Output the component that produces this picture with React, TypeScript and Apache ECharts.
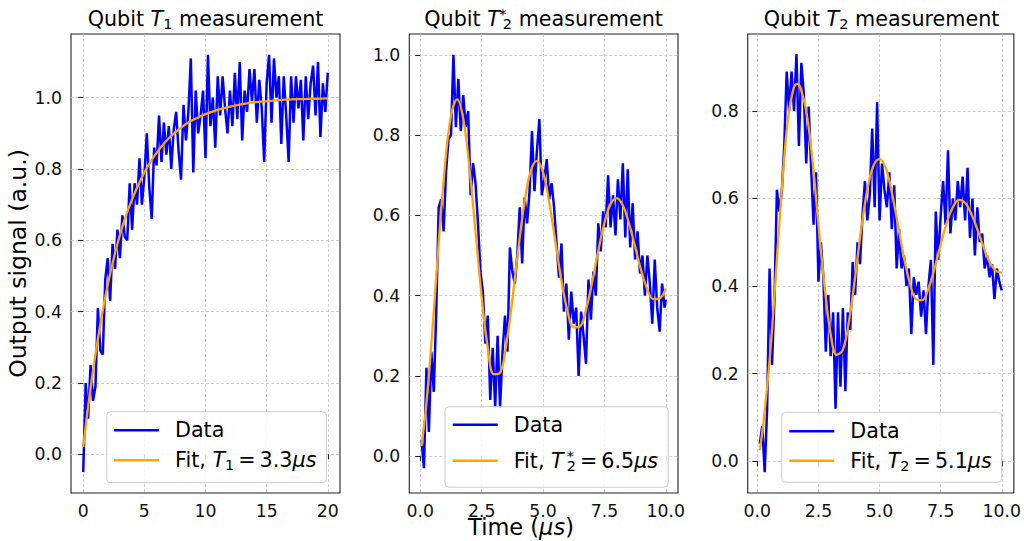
import React, { useEffect, useRef } from "react";
import * as echarts from "echarts";

// ---------- Panel 1 : T1 ----------
const T1_TIME = [
  0, 0.2, 0.4, 0.6, 0.8, 1, 1.2, 1.4, 1.6, 1.8,
  2, 2.2, 2.4, 2.6, 2.8, 3, 3.2, 3.4, 3.6, 3.8,
  4, 4.2, 4.4, 4.6, 4.8, 5, 5.2, 5.4, 5.6, 5.8,
  6, 6.2, 6.4, 6.6, 6.8, 7, 7.2, 7.4, 7.6, 7.8,
  8, 8.2, 8.4, 8.6, 8.8, 9, 9.2, 9.4, 9.6, 9.8,
  10, 10.2, 10.4, 10.6, 10.8, 11, 11.2, 11.4, 11.6, 11.8,
  12, 12.2, 12.4, 12.6, 12.8, 13, 13.2, 13.4, 13.6, 13.8,
  14, 14.2, 14.4, 14.6, 14.8, 15, 15.2, 15.4, 15.6, 15.8,
  16, 16.2, 16.4, 16.6, 16.8, 17, 17.2, 17.4, 17.6, 17.8,
  18, 18.2, 18.4, 18.6, 18.8, 19, 19.2, 19.4, 19.6, 19.8,
  20,
];
const T1_SIGNAL = [
  -0.05, 0.2, 0.1, 0.25, 0.15, 0.19, 0.41, 0.29, 0.28, 0.49,
  0.55, 0.43, 0.59, 0.52, 0.63, 0.55, 0.67, 0.61, 0.6, 0.76,
  0.63, 0.76, 0.7, 0.83, 0.7, 0.78, 0.9, 0.75, 0.66, 0.86,
  0.81, 0.95, 0.82, 0.93, 0.84, 0.92, 0.8, 0.91, 0.96, 0.85,
  0.77, 0.98, 0.88, 0.96, 1.11, 0.79, 1.02, 0.9, 0.95, 1.02,
  0.83, 1.12, 0.92, 1.0, 0.86, 1.06, 0.95, 1.06, 0.97, 0.9,
  1.02, 0.92, 1.07, 0.94, 1.1, 0.88, 1.02, 0.96, 1.08, 0.99,
  1.08, 0.93, 1.05, 0.97, 0.82, 1.04, 1.12, 0.93, 1.11, 1.0,
  1.06, 0.87, 1.06, 0.95, 0.82, 1.06, 0.93, 1.06, 0.97, 1.05,
  0.88, 1.06, 0.94, 1.04, 1.09, 0.95, 1.1, 0.89, 1.04, 0.96,
  1.07,
];
const T1_FIT_TIME = [
  0, 0.5, 1, 1.5, 2, 2.5, 3, 3.5, 4, 4.5, 5, 5.5, 6, 6.5, 7, 7.5, 8, 8.5, 9, 9.5,
  10, 11, 12, 13, 14, 15, 16, 17, 18, 19, 20,
];
const T1_FIT = [
  0.02, 0.16, 0.28, 0.385, 0.475, 0.55, 0.615, 0.67, 0.715, 0.755, 0.79, 0.82, 0.845,
  0.867, 0.886, 0.902, 0.916, 0.928, 0.938, 0.946, 0.954, 0.966, 0.975, 0.982, 0.987,
  0.99, 0.993, 0.995, 0.996, 0.997, 0.998,
];

// ---------- Panel 2 : T2* (Ramsey) ----------
const T2S_TIME = [
  0.05, 0.15, 0.25, 0.35, 0.45, 0.55, 0.65, 0.75, 0.85, 0.95,
  1.05, 1.15, 1.25, 1.35, 1.45, 1.55, 1.65, 1.75, 1.85, 1.95,
  2.05, 2.15, 2.25, 2.35, 2.45, 2.55, 2.65, 2.75, 2.85, 2.95,
  3.05, 3.15, 3.25, 3.35, 3.45, 3.55, 3.65, 3.75, 3.85, 3.95,
  4.05, 4.15, 4.25, 4.35, 4.45, 4.55, 4.65, 4.75, 4.85, 4.95,
  5.05, 5.15, 5.25, 5.35, 5.45, 5.55, 5.65, 5.75, 5.85, 5.95,
  6.05, 6.15, 6.25, 6.35, 6.45, 6.55, 6.65, 6.75, 6.85, 6.95,
  7.05, 7.15, 7.25, 7.35, 7.45, 7.55, 7.65, 7.75, 7.85, 7.95,
  8.05, 8.15, 8.25, 8.35, 8.45, 8.55, 8.65, 8.75, 8.85, 8.95,
  9.05, 9.15, 9.25, 9.35, 9.45, 9.55, 9.65, 9.75, 9.85, 9.95,
  10.0,
];
const T2S_SIGNAL = [
  0.04, -0.03, 0.22, 0.06, 0.26, 0.16, 0.36, 0.62, 0.64, 0.56,
  0.71, 0.79, 0.8, 1.0, 0.82, 0.94, 0.81, 0.9, 0.82, 0.86,
  0.65, 0.73, 0.68, 0.58, 0.46, 0.41, 0.28, 0.35, 0.14, 0.27,
  0.12, 0.3, 0.12, 0.26, 0.35, 0.26, 0.52, 0.46, 0.43, 0.5,
  0.62, 0.48, 0.645, 0.58, 0.66, 0.81, 0.66, 0.76, 0.84, 0.65,
  0.69, 0.74, 0.64, 0.68, 0.62, 0.53, 0.445, 0.53, 0.36, 0.43,
  0.29, 0.41, 0.33, 0.37, 0.2, 0.36, 0.3, 0.23, 0.44, 0.34,
  0.46, 0.4, 0.58, 0.51, 0.61, 0.57, 0.7, 0.57, 0.65, 0.55,
  0.69, 0.59, 0.73, 0.545, 0.715, 0.52, 0.63, 0.49, 0.56, 0.455,
  0.5, 0.4, 0.5, 0.43, 0.33, 0.49, 0.37, 0.31, 0.43, 0.37,
  0.39,
];
const T2S_FIT_TIME = [
  0.05, 0.25, 0.5, 0.75, 1.0, 1.25, 1.5, 1.75, 2.0, 2.25, 2.5, 2.75, 3.0, 3.25, 3.5,
  3.75, 4.0, 4.25, 4.5, 4.75, 5.0, 5.25, 5.5, 5.75, 6.0, 6.25, 6.5, 6.75, 7.0, 7.25,
  7.5, 7.75, 8.0, 8.25, 8.5, 8.75, 9.0, 9.25, 9.5, 9.75, 10.0,
];
const T2S_FIT = [
  0.025, 0.132, 0.319, 0.532, 0.721, 0.848, 0.889, 0.841, 0.719, 0.559, 0.397, 0.27,
  0.204, 0.208, 0.277, 0.39, 0.519, 0.634, 0.711, 0.736, 0.707, 0.633, 0.536, 0.437,
  0.361, 0.321, 0.323, 0.365, 0.433, 0.512, 0.581, 0.628, 0.643, 0.625, 0.58, 0.522,
  0.462, 0.415, 0.391, 0.393, 0.418,
];

// ---------- Panel 3 : T2 (echo) ----------
const T2_TIME = [
  0.1, 0.2, 0.3, 0.4, 0.5, 0.6, 0.7, 0.8, 0.9, 1.0,
  1.1, 1.2, 1.3, 1.4, 1.5, 1.6, 1.7, 1.8, 1.9, 2.0,
  2.1, 2.2, 2.3, 2.4, 2.5, 2.6, 2.7, 2.8, 2.9, 3.0,
  3.1, 3.2, 3.3, 3.4, 3.5, 3.6, 3.7, 3.8, 3.9, 4.0,
  4.1, 4.2, 4.3, 4.4, 4.5, 4.6, 4.7, 4.8, 4.9, 5.0,
  5.1, 5.2, 5.3, 5.4, 5.5, 5.6, 5.7, 5.8, 5.9, 6.0,
  6.1, 6.2, 6.3, 6.4, 6.5, 6.6, 6.7, 6.8, 6.9, 7.0,
  7.1, 7.2, 7.3, 7.4, 7.5, 7.6, 7.7, 7.8, 7.9, 8.0,
  8.1, 8.2, 8.3, 8.4, 8.5, 8.6, 8.7, 8.8, 8.9, 9.0,
  9.1, 9.2, 9.3, 9.4, 9.5, 9.6, 9.7, 9.8, 9.9, 10.0,
];
const T2_SIGNAL = [
  0.04, 0.08, -0.025, 0.12, 0.44, 0.22, 0.37, 0.62, 0.57, 0.615,
  0.72, 0.89, 0.8, 0.89, 0.8, 0.93, 0.72, 0.91, 0.84, 0.68,
  0.81, 0.67, 0.54, 0.66, 0.41, 0.5, 0.42, 0.25, 0.38, 0.24,
  0.34, 0.12, 0.34, 0.17, 0.35, 0.16, 0.34, 0.3, 0.455, 0.38,
  0.5, 0.45, 0.56, 0.64, 0.55, 0.61, 0.76, 0.58, 0.82, 0.55,
  0.68, 0.62, 0.58, 0.66, 0.53, 0.63, 0.44, 0.53, 0.44, 0.47,
  0.4, 0.44, 0.29, 0.42, 0.38, 0.41, 0.33, 0.39, 0.29, 0.4,
  0.46, 0.22, 0.57, 0.46, 0.56, 0.64, 0.54, 0.71, 0.52, 0.6,
  0.55, 0.64, 0.58, 0.65, 0.55, 0.67, 0.51, 0.6, 0.47, 0.58,
  0.5, 0.52, 0.44, 0.47, 0.42, 0.45, 0.37, 0.44, 0.41, 0.39,
];
const T2_FIT_TIME = [
  0.1, 0.25, 0.5, 0.75, 1.0, 1.25, 1.5, 1.65, 1.75, 2.0, 2.25, 2.5, 2.75, 3.0, 3.25,
  3.5, 3.75, 4.0, 4.25, 4.5, 4.75, 5.0, 5.25, 5.5, 5.75, 6.0, 6.25, 6.5, 6.75, 7.0,
  7.25, 7.5, 7.75, 8.0, 8.25, 8.5, 8.75, 9.0, 9.25, 9.5, 9.75, 10.0,
];
const T2_FIT = [
  0.025, 0.09, 0.23, 0.42, 0.62, 0.78, 0.855, 0.862, 0.855, 0.8, 0.69, 0.54, 0.4,
  0.29, 0.243, 0.255, 0.32, 0.42, 0.53, 0.62, 0.675, 0.69, 0.67, 0.615, 0.54, 0.465,
  0.405, 0.37, 0.368, 0.395, 0.44, 0.495, 0.545, 0.58, 0.597, 0.59, 0.565, 0.53,
  0.49, 0.455, 0.435, 0.43,
];

// ---------- Ticks ----------
const X_TICKS_T1 = [0, 5, 10, 15, 20];
const X_TICKS_T2 = [0, 2.5, 5, 7.5, 10];
const Y_TICKS_A = [0, 0.2, 0.4, 0.6, 0.8, 1.0];
const Y_TICKS_B = [0, 0.2, 0.4, 0.6, 0.8];

const FONT = "DejaVu Sans";
const BIG = 20.7;
const LABEL = 23.5;
const XLABEL = 22.5;
const SMALL = 14.5;
const TICK = 17.3;

const RICH: any = {
  g: { width: 11 },
  sp: { width: 4 },
  n: { fontFamily: FONT, fontSize: BIG, color: "#000", lineHeight: 26 },
  i: { fontFamily: FONT, fontSize: BIG, color: "#000", lineHeight: 26, fontStyle: "italic" },
  sub: { fontFamily: FONT, fontSize: SMALL, color: "#000", lineHeight: 16, padding: [10, 0, 0, 0] },
  sup: {
    fontFamily: FONT, fontSize: SMALL, color: "#000", lineHeight: 16,
    padding: [0, 0, 10, 3], width: 0, align: "left",
  },
  ln: { fontFamily: FONT, fontSize: XLABEL, color: "#000", lineHeight: 22 },
  li: { fontFamily: FONT, fontSize: XLABEL, color: "#000", lineHeight: 22, fontStyle: "italic" },
};

const zip = (xs: number[], ys: number[]) => xs.map((x, i) => [x, ys[i]]);

const GRIDS = [
  { left: 71, top: 34, width: 269, height: 459 },
  { left: 409.3, top: 34, width: 268.7, height: 459 },
  { left: 747.7, top: 34, width: 267.6, height: 459 },
];
const X_RANGES = [
  [-1, 21],
  [-0.4475, 10.4975],
  [-0.395, 10.495],
];
const Y_RANGES = [
  [-0.1085, 1.1785],
  [-0.092, 1.052],
  [-0.0727, 0.9757],
];

function makeX(i: number) {
  const ticks = i === 0 ? X_TICKS_T1 : X_TICKS_T2;
  return {
    type: "value",
    gridIndex: i,
    min: X_RANGES[i][0],
    max: X_RANGES[i][1],
    axisLine: { show: false },
    axisTick: { show: true, customValues: ticks, length: 5, lineStyle: { color: "#222", width: 1.1 } },
    axisLabel: {
      customValues: ticks,
      margin: 9,
      lineHeight: 18,
      fontFamily: FONT,
      fontSize: TICK,
      color: "#111",
      formatter: (v: number) => (i === 0 ? String(v) : v.toFixed(1)),
    },
    splitLine: { show: true, lineStyle: { color: "#c4c4c4", width: 0.8, type: [3, 2] } },
  };
}

function makeY(i: number) {
  const ticks = i === 2 ? Y_TICKS_B : Y_TICKS_A;
  const base: any = {
    type: "value",
    gridIndex: i,
    min: Y_RANGES[i][0],
    max: Y_RANGES[i][1],
    axisLine: { show: false },
    axisTick: { show: true, customValues: ticks, length: 5, lineStyle: { color: "#222", width: 1.1 } },
    axisLabel: {
      customValues: ticks,
      margin: 9,
      fontFamily: FONT,
      fontSize: TICK,
      color: "#111",
      formatter: (v: number) => v.toFixed(1),
    },
    splitLine: { show: true, lineStyle: { color: "#c4c4c4", width: 0.8, type: [3, 2] } },
  };
  if (i === 0) {
    base.name = "Output signal (a.u.)";
    base.nameLocation = "middle";
    base.nameRotate = 90;
    base.nameGap = 41;
    base.nameTextStyle = { fontFamily: FONT, fontSize: LABEL, color: "#000" };
  }
  return base;
}

function dataSeries(i: number, xs: number[], ys: number[]) {
  return {
    type: "line",
    name: "Data",
    xAxisIndex: i,
    yAxisIndex: i,
    data: zip(xs, ys),
    showSymbol: false,
    color: "#0000ff",
    lineStyle: { color: "#0000ff", width: 2.5 },
    z: 2,
  };
}
function fitSeries(i: number, name: string, xs: number[], ys: number[]) {
  return {
    type: "line",
    name,
    xAxisIndex: i,
    yAxisIndex: i,
    data: zip(xs, ys),
    showSymbol: false,
    smooth: 0.4,
    color: "#ffa500",
    lineStyle: { color: "#ffa500", width: 2.3 },
    z: 3,
  };
}

const FIT_LABELS: Record<string, string> = {
  fit1: "{g|}{n|Fit, }{i|T}{sub|1}{sp|}{n|=}{sp|}{n|3.3}{i|μs}",
  fit2: "{g|}{n|Fit, }{i|T}{sup|*}{sub|2}{sp|}{n|=}{sp|}{n|6.5}{i|μs}",
  fit3: "{g|}{n|Fit, }{i|T}{sub|2}{sp|}{n|=}{sp|}{n|5.1}{i|μs}",
};

function makeLegend(fit: string, left: number, top: number, gap: number, padding: number[]) {
  return {
    data: ["Data", fit],
    orient: "vertical",
    left,
    top,
    itemGap: gap,
    padding,
    icon: "rect",
    itemWidth: 45,
    itemHeight: 2.6,
    selectedMode: false,
    backgroundColor: "rgba(255,255,255,0.85)",
    borderColor: "#cccccc",
    borderWidth: 1,
    borderRadius: 4,
    textStyle: { fontFamily: FONT, fontSize: BIG, color: "#000", rich: RICH },
    formatter: (name: string) => (name === "Data" ? "{g|}{n|Data}" : FIT_LABELS[name]),
  };
}

function makeTitle(text: string, cx: number, top: number) {
  return {
    text,
    left: cx,
    top,
    textAlign: "center",
    padding: 0,
    textStyle: { fontFamily: FONT, fontSize: BIG, color: "#000", fontWeight: "normal", rich: RICH },
  };
}

export default function App() {
  const ref = useRef<HTMLDivElement>(null);
  useEffect(() => {
    if (!ref.current) return;
    const chart = echarts.init(ref.current, null, { renderer: "svg" });
    const option: any = {
      animation: false,
      backgroundColor: "#ffffff",
      title: [
        makeTitle("{n|Qubit }{i|T}{sub|1}{n| measurement}", 205.5, 6),
        makeTitle("{n|Qubit }{i|T}{sup|*}{sub|2}{n| measurement}", 543.6, 6),
        makeTitle("{n|Qubit }{i|T}{sub|2}{n| measurement}", 881.5, 6),
        makeTitle("{ln|Time (}{li|μs}{ln|)}", 521, 515.5),
      ],
      grid: GRIDS.map((g) => ({
        ...g,
        show: true,
        borderColor: "#222",
        borderWidth: 1.1,
        backgroundColor: "transparent",
      })),
      xAxis: [0, 1, 2].map(makeX),
      yAxis: [0, 1, 2].map(makeY),
      legend: [
        makeLegend("fit1", 106.7, 411.7, 7, [8, 10, 10, 7.3]),
        makeLegend("fit2", 445, 406.7, 13, [7.5, 10, 14, 7.7]),
        makeLegend("fit3", 781.7, 412.3, 6.5, [8.5, 10, 9, 7.6]),
      ],
      series: [
        dataSeries(0, T1_TIME, T1_SIGNAL),
        fitSeries(0, "fit1", T1_FIT_TIME, T1_FIT),
        dataSeries(1, T2S_TIME, T2S_SIGNAL),
        fitSeries(1, "fit2", T2S_FIT_TIME, T2S_FIT),
        dataSeries(2, T2_TIME, T2_SIGNAL),
        fitSeries(2, "fit3", T2_FIT_TIME, T2_FIT),
      ],
    };
    chart.setOption(option);
    return () => chart.dispose();
  }, []);
  return (
    <div
      ref={ref}
      style={{ position: "absolute", left: 0, top: 0, width: 1024, height: 541, background: "#fff" }}
    />
  );
}
